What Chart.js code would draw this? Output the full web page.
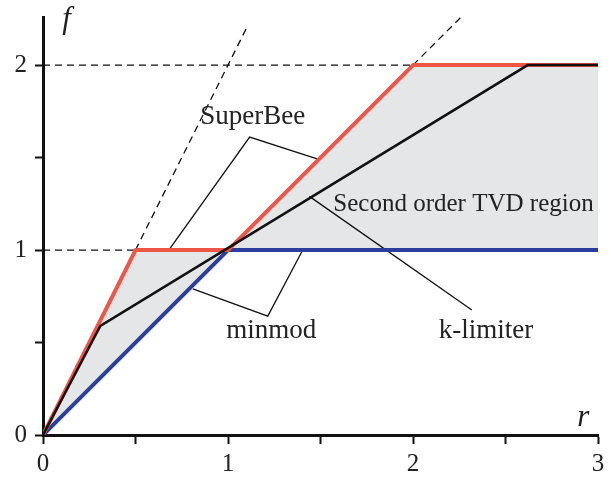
<!DOCTYPE html>
<html>
<head>
<meta charset="utf-8">
<title>TVD limiters</title>
<script src="https://cdn.jsdelivr.net/npm/chart.js@4"></script>
<style>
  html, body { margin: 0; padding: 0; background: #fff; }
  #wrap { width: 611px; height: 478px; position: relative; }
</style>
</head>
<body>
<div id="wrap"><canvas id="grafica"></canvas></div>
<script>
// limiter curves f(r)
const superbeeR = [0, 0.5, 1, 2, 3];
const superbeeF = [0, 1, 1, 2, 2];
const minmodR = [0, 1, 3];
const minmodF = [0, 1, 1];
const kLimR = [0, 0.31, 2.62, 3];
const kLimF = [0, 0.59, 2, 2];

// dashed guides
const guideR = [[0, 2], [0, 0.5], [0.5, 1.1], [2, 2.26]];
const guideF = [[2, 2], [1, 1], [1, 2.2], [2, 2.26]];

// leader lines for the labels
const leaderR = [[0.68, 1.117, 1.49], [0.81, 1.215, 1.404], [1.44, 2.318]];
const leaderF = [[1, 1.611, 1.49], [0.79, 0.643, 1], [1.29, 0.676]];

// labels
const labelText = ['SuperBee', 'Second order TVD region', 'minmod', 'k-limiter'];
const labelR = [1.134, 2.273, 1.234, 2.394];
const labelF = [1.719, 1.249, 0.562, 0.562];

// axes
const xTicks = [0, 0.5, 1, 1.5, 2, 2.5, 3];
const yTicks = [0, 0.5, 1, 1.5, 2];
const xMax = 3;
const yMax = 2.26;

const puntos = (rs, fs) => rs.map((r, i) => ({ x: r, y: fs[i] }));

const datasets = [];

// shaded region between superbee and minmod
const regionPts = puntos(superbeeR, superbeeF).concat(puntos(minmodR, minmodF).reverse());
datasets.push({
  data: regionPts, showLine: true, fill: 'shape', order: 10,
  backgroundColor: 'rgb(229,230,232)', borderWidth: 0, borderColor: 'rgba(0,0,0,0)', pointRadius: 0
});

guideR.forEach((rs, i) => {
  datasets.push({
    data: puntos(rs, guideF[i]), showLine: true, order: 9,
    borderColor: '#111', borderWidth: 1.3, borderDash: [7, 5], pointRadius: 0
  });
});

leaderR.forEach((rs, i) => {
  datasets.push({
    data: puntos(rs, leaderF[i]), showLine: true, order: 8,
    borderColor: '#111', borderWidth: 1.3, pointRadius: 0
  });
});

datasets.push({
  data: puntos(minmodR, minmodF), showLine: true, order: 3,
  borderColor: 'rgb(42,62,158)', borderWidth: 4, pointRadius: 0, borderJoinStyle: 'round'
});
datasets.push({
  data: puntos(superbeeR, superbeeF), showLine: true, order: 2,
  borderColor: 'rgb(238,86,72)', borderWidth: 4, pointRadius: 0, borderJoinStyle: 'round'
});
datasets.push({
  data: puntos(kLimR, kLimF), showLine: true, order: 1,
  borderColor: '#111', borderWidth: 2.5, pointRadius: 0
});

const etiquetas = {
  id: 'etiquetas',
  afterDatasetsDraw(chart) {
    const ctx = chart.ctx;
    const xs = chart.scales.x, ys = chart.scales.y;
    ctx.save();
    ctx.fillStyle = '#222';
    ctx.textAlign = 'center';
    ctx.textBaseline = 'middle';
    labelText.forEach((t, i) => {
      ctx.font = (i === 1 ? '25px' : '27px') + ' "Liberation Serif", "Times New Roman", serif';
      ctx.fillText(t, xs.getPixelForValue(labelR[i]), ys.getPixelForValue(labelF[i]));
    });
    ctx.font = 'italic 31px "Liberation Serif", "Times New Roman", serif';
    ctx.fillText('f', xs.getPixelForValue(0.127), ys.getPixelForValue(2.243));
    ctx.fillText('r', xs.getPixelForValue(2.92), ys.getPixelForValue(0.092));
    ctx.restore();
  }
};

const tickFont = { family: '"Liberation Serif", "Times New Roman", serif', size: 25 };

new Chart(document.getElementById('grafica'), {
  type: 'scatter',
  data: { datasets },
  options: {
    responsive: true,
    maintainAspectRatio: false,
    animation: false,
    layout: { padding: { top: 17, right: 13, left: 0, bottom: 0 } },
    plugins: { legend: { display: false }, tooltip: { enabled: false } },
    scales: {
      x: {
        type: 'linear', min: 0, max: xMax,
        afterFit: s => { s.height = 43; s.paddingLeft = 0; s.paddingRight = 0; },
        afterBuildTicks: s => { s.ticks = xTicks.map(v => ({ value: v })); },
        border: { display: true, color: '#111', width: 3 },
        grid: { drawOnChartArea: false, drawTicks: true, tickLength: 9, tickWidth: 2, tickColor: '#111' },
        ticks: {
          padding: 5, color: '#222', font: tickFont, maxRotation: 0, autoSkip: false,
          callback: v => Number.isInteger(v) ? v : ''
        }
      },
      y: {
        type: 'linear', min: 0, max: yMax,
        afterFit: s => { s.width = 43; s.paddingTop = 0; s.paddingBottom = 0; },
        afterBuildTicks: s => { s.ticks = yTicks.map(v => ({ value: v })); },
        border: { display: true, color: '#111', width: 3 },
        grid: { drawOnChartArea: false, drawTicks: true, tickLength: 8, tickWidth: 2, tickColor: '#111' },
        ticks: {
          padding: 8, color: '#222', font: tickFont, autoSkip: false,
          callback: v => Number.isInteger(v) ? v : ''
        }
      }
    }
  },
  plugins: [etiquetas]
});
</script>
</body>
</html>
